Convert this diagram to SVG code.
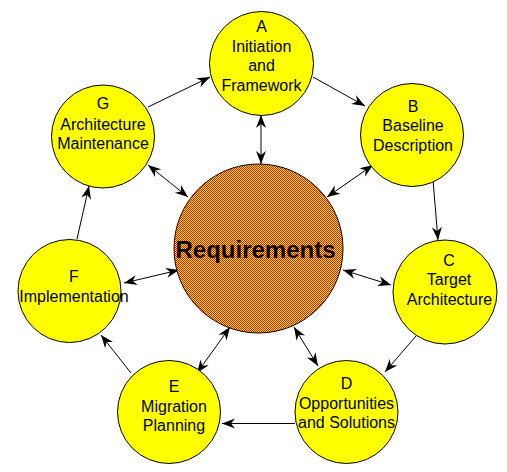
<svg xmlns="http://www.w3.org/2000/svg" width="507" height="472" viewBox="0 0 507 472">
<style>
.n{fill:#FFFF00;stroke:#000;stroke-width:1}
.t{font-family:"Liberation Sans",Arial,sans-serif;font-size:16px;fill:#000;text-anchor:middle}
.c line{stroke:#000;stroke-width:1}
.one{marker-end:url(#ah)}
.two{marker-start:url(#ah);marker-end:url(#ah)}
</style>
<defs>
<pattern id="chk" x="0" y="0" width="4" height="4" patternUnits="userSpaceOnUse">
<path d="M0,0h4v4h-4z" fill="#FFFF00" shape-rendering="crispEdges"/>
<path d="M0,0h1v1h-1zM2,0h1v1h-1zM1,1h1v1h-1zM3,1h1v1h-1zM0,2h1v1h-1zM2,2h1v1h-1zM1,3h1v1h-1zM3,3h1v1h-1z" fill="#FF0000" shape-rendering="crispEdges"/>
</pattern>
<marker id="ah" markerUnits="userSpaceOnUse" markerWidth="16" markerHeight="12" viewBox="-14 -6 16 12" refX="0" refY="0" orient="auto-start-reverse">
<path d="M0,0 L-13,-5 L-9,0 L-13,5 Z" fill="#000"/>
</marker>
</defs>
<rect width="507" height="472" fill="#fff"/>
<g class="c" id="connectors">
<line class="one" x1="313" y1="77" x2="365" y2="106"/>
<line class="one" x1="433" y1="180" x2="438" y2="240"/>
<line class="one" x1="416" y1="336" x2="385" y2="372"/>
<line class="one" x1="295" y1="423.5" x2="222" y2="423.5"/>
<line class="one" x1="131" y1="373" x2="101" y2="335"/>
<line class="one" x1="77" y1="239" x2="89" y2="186"/>
<line class="one" x1="148" y1="107" x2="210" y2="77"/>
<line class="two" x1="261" y1="115" x2="261" y2="164"/>
<line class="two" x1="373" y1="165" x2="327" y2="197"/>
<line class="two" x1="343" y1="270" x2="391" y2="285"/>
<line class="two" x1="294" y1="327" x2="318" y2="366"/>
<line class="two" x1="230" y1="327" x2="197" y2="373"/>
<line class="two" x1="124" y1="283" x2="179" y2="270"/>
<line class="two" x1="148" y1="165" x2="188" y2="197"/>
</g>
<g id="req">
<circle cx="258.5" cy="248.5" r="84.5" fill="url(#chk)" stroke="#000" stroke-width="1"/>
<text x="255.5" y="258" style="font-family:'Liberation Sans',Arial,sans-serif;font-size:24px;font-weight:bold;text-anchor:middle">Requirements</text>
</g>
<g id="A">
<circle class="n" cx="261.5" cy="63.5" r="52"/>
<text class="t" x="261.5" y="31.5">A</text>
<text class="t" x="261.5" y="51.5">Initiation</text>
<text class="t" x="261.5" y="71">and</text>
<text class="t" x="261.5" y="90.5">Framework</text>
</g>
<g id="B">
<circle class="n" cx="412" cy="135" r="51.5"/>
<text class="t" x="413" y="111.5">B</text>
<text class="t" x="413" y="131">Baseline</text>
<text class="t" x="413" y="151">Description</text>
</g>
<g id="C">
<circle class="n" cx="445" cy="292" r="52"/>
<text class="t" x="449" y="265.5">C</text>
<text class="t" x="449" y="285">Target</text>
<text class="t" x="449.5" y="304.5">Architecture</text>
</g>
<g id="D">
<circle class="n" cx="346.5" cy="412" r="51.5"/>
<text class="t" x="346.5" y="389">D</text>
<text class="t" x="346.5" y="408.5">Opportunities</text>
<text class="t" x="346.5" y="428">and Solutions</text>
</g>
<g id="E">
<circle class="n" cx="169" cy="412" r="51.5"/>
<text class="t" x="174" y="391.5">E</text>
<text class="t" x="174" y="411.5">Migration</text>
<text class="t" x="174" y="430.5">Planning</text>
</g>
<g id="F">
<circle class="n" cx="69.5" cy="291" r="51.5"/>
<text class="t" x="74" y="281.5">F</text>
<text class="t" x="74" y="301.5">Implementation</text>
</g>
<g id="G">
<circle class="n" cx="103" cy="136.5" r="51.5"/>
<text class="t" x="103" y="109">G</text>
<text class="t" x="103" y="130">Architecture</text>
<text class="t" x="103" y="148.5">Maintenance</text>
</g>
</svg>
